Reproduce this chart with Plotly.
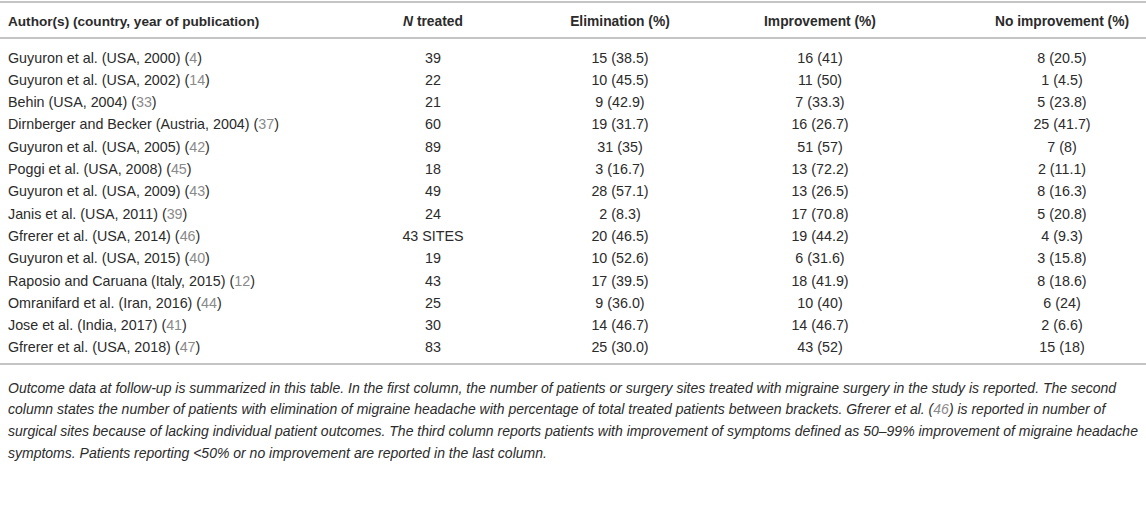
import plotly.graph_objects as go

# table content
authors = [
    "Guyuron et al. (USA, 2000)", "Guyuron et al. (USA, 2002)", "Behin (USA, 2004)",
    "Dirnberger and Becker (Austria, 2004)", "Guyuron et al. (USA, 2005)", "Poggi et al. (USA, 2008)",
    "Guyuron et al. (USA, 2009)", "Janis et al. (USA, 2011)", "Gfrerer et al. (USA, 2014)",
    "Guyuron et al. (USA, 2015)", "Raposio and Caruana (Italy, 2015)", "Omranifard et al. (Iran, 2016)",
    "Jose et al. (India, 2017)", "Gfrerer et al. (USA, 2018)",
]
refs = ["4", "14", "33", "37", "42", "45", "43", "39", "46", "40", "12", "44", "41", "47"]
n_treated = ["39", "22", "21", "60", "89", "18", "49", "24", "43 SITES", "19", "43", "25", "30", "83"]
elimination = ["15 (38.5)", "10 (45.5)", "9 (42.9)", "19 (31.7)", "31 (35)", "3 (16.7)", "28 (57.1)",
               "2 (8.3)", "20 (46.5)", "10 (52.6)", "17 (39.5)", "9 (36.0)", "14 (46.7)", "25 (30.0)"]
improvement = ["16 (41)", "11 (50)", "7 (33.3)", "16 (26.7)", "51 (57)", "13 (72.2)", "13 (26.5)",
               "17 (70.8)", "19 (44.2)", "6 (31.6)", "18 (41.9)", "10 (40)", "14 (46.7)", "43 (52)"]
no_improvement = ["8 (20.5)", "1 (4.5)", "5 (23.8)", "25 (41.7)", "7 (8)", "2 (11.1)", "8 (16.3)",
                  "5 (20.8)", "4 (9.3)", "3 (15.8)", "8 (18.6)", "6 (24)", "2 (6.6)", "15 (18)"]
headers = ["Author(s) (country, year of publication)", "<i>N</i> treated", "Elimination (%)",
           "Improvement (%)", "No improvement (%)"]
caption_lines = [
    "Outcome data at follow-up is summarized in this table. In the first column, the number of patients or surgery sites treated with migraine surgery in the study is reported. The second",
    "column states the number of patients with elimination of migraine headache with percentage of total treated patients between brackets. Gfrerer et al. (<span style='color:#8a8a8a'>46</span>) is reported in number of",
    "surgical sites because of lacking individual patient outcomes. The third column reports patients with improvement of symptoms defined as 50–99% improvement of migraine headache",
    "symptoms. Patients reporting &lt;50% or no improvement are reported in the last column.",
]

TXT = "#2b2b2b"
REF = "#8a8a8a"
RULE = "#b0b0b0"
FONT = "Liberation Sans, Arial, sans-serif"

W, H = 1146, 521

row_y0, row_step = 59, 22.3
rows_y = [row_y0 + i * row_step for i in range(len(authors))]
col_x = [8, 433, 620, 820, 1062]
header_y = 23

fig = go.Figure()

author_text = [f"{a} (<span style='color:{REF}'>{r}</span>)" for a, r in zip(authors, refs)]
fig.add_trace(go.Scatter(x=[col_x[0]] * len(authors), y=rows_y, mode="text", text=author_text,
                         textposition="middle right", textfont=dict(family=FONT, size=14.3, color=TXT),
                         hoverinfo="skip"))
for cx, vals in zip(col_x[1:], [n_treated, elimination, improvement, no_improvement]):
    fig.add_trace(go.Scatter(x=[cx] * len(vals), y=rows_y, mode="text", text=vals,
                             textposition="middle center",
                             textfont=dict(family=FONT, size=14.3, color=TXT), hoverinfo="skip"))

# header row
fig.add_trace(go.Scatter(x=[col_x[0]], y=[header_y], mode="text", text=[f"<b>{headers[0]}</b>"],
                         textposition="middle right", textfont=dict(family=FONT, size=13.6, color=TXT),
                         hoverinfo="skip"))
fig.add_trace(go.Scatter(x=col_x[1:], y=[header_y] * 4, mode="text",
                         text=[f"<b>{h}</b>" for h in headers[1:]], textposition="middle center",
                         textfont=dict(family=FONT, size=13.8, color=TXT), hoverinfo="skip"))

# caption
cap_y = [389 + i * 21.7 for i in range(len(caption_lines))]
fig.add_trace(go.Scatter(x=[col_x[0]] * len(caption_lines), y=cap_y, mode="text",
                         text=[f"<i>{c}</i>" for c in caption_lines], textposition="middle right",
                         textfont=dict(family=FONT, size=14, color=TXT), hoverinfo="skip"))

for yy in [2, 38, 364]:
    fig.add_shape(type="line", x0=0, x1=W, y0=yy, y1=yy, line=dict(color=RULE, width=1.6))

fig.update_layout(
    width=W, height=H, margin=dict(l=0, r=0, t=0, b=0),
    paper_bgcolor="white", plot_bgcolor="white", showlegend=False,
    xaxis=dict(range=[0, W], visible=False, fixedrange=True),
    yaxis=dict(range=[H, 0], visible=False, fixedrange=True),
)
# drop the default 8px page margin so the figure fills the window
fig.write_html("out.html", config={"displayModeBar": False},
               post_script="document.body.style.margin='0px';")
